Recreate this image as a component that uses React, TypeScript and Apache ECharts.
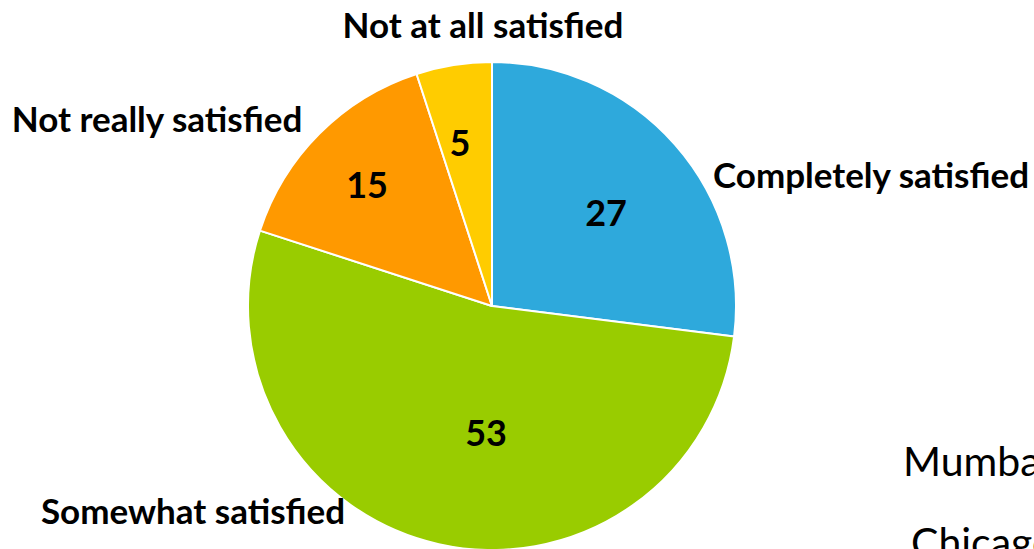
import React, { useEffect, useRef } from "react";
import * as echarts from "echarts";

const categories = ["Completely satisfied", "Somewhat satisfied", "Not really satisfied", "Not at all satisfied"];
const values = [27, 53, 15, 5];
const colors = ["#2EA9DC", "#99CC00", "#FF9900", "#FFCC00"];
const overlayTexts = ["Mumbai", "Chicago"];

// label anchor positions (pixels)
const valueLabelPos = [[606, 212], [486, 432], [367, 184], [460, 142]];
const nameLabelPos = [[871, 174], [193, 510], [157, 118], [483, 24]];

const FONT = "Lato, 'Open Sans', sans-serif";

export default function App() {
  const ref = useRef<HTMLDivElement>(null);
  useEffect(() => {
    document.body.style.margin = "0";
    const chart = echarts.init(ref.current!, null, { renderer: "svg" });
    const data = categories.map((name, i) => ({ name, value: values[i], itemStyle: { color: colors[i] } }));
    chart.setOption({
      animation: false,
      backgroundColor: "#ffffff",
      series: [
        {
          type: "pie",
          center: [492, 306],
          radius: 244,
          startAngle: 90,
          clockwise: true,
          data,
          itemStyle: { borderColor: "#ffffff", borderWidth: 2 },
          label: {
            show: true,
            position: "inside",
            formatter: "{c}",
            color: "#000",
            fontFamily: FONT,
            fontWeight: "bold",
            fontSize: 36,
          },
          labelLine: { show: false },
          labelLayout: (p: any) => ({
            x: valueLabelPos[p.dataIndex][0],
            y: valueLabelPos[p.dataIndex][1],
            align: "center",
            verticalAlign: "middle",
          }),
          emphasis: { disabled: true },
        },
        {
          type: "pie",
          center: [492, 306],
          radius: 244,
          startAngle: 90,
          clockwise: true,
          silent: true,
          data: categories.map((name, i) => ({ name, value: values[i] })),
          itemStyle: { color: "rgba(0,0,0,0)", borderWidth: 0 },
          label: {
            show: true,
            position: "outside",
            formatter: "{b}",
            color: "#000",
            fontFamily: FONT,
            fontWeight: "bold",
            fontSize: 35,
            overflow: "none",
            width: 400,
          },
          labelLine: { show: false },
          labelLayout: (p: any) => ({
            x: nameLabelPos[p.dataIndex][0],
            y: nameLabelPos[p.dataIndex][1],
            align: "center",
            verticalAlign: "middle",
            hideOverlap: false,
          }),
          emphasis: { disabled: true },
        },
      ],
      graphic: [
        {
          type: "text",
          left: 903,
          top: 440,
          style: { text: overlayTexts[0], fontFamily: FONT, fontSize: 41, fill: "#000" },
        },
        {
          type: "text",
          left: 911,
          top: 521,
          style: { text: overlayTexts[1], fontFamily: FONT, fontSize: 41, fill: "#000" },
        },
      ],
    });
    return () => chart.dispose();
  }, []);
  return <div ref={ref} style={{ width: 1034, height: 549 }} />;
}
